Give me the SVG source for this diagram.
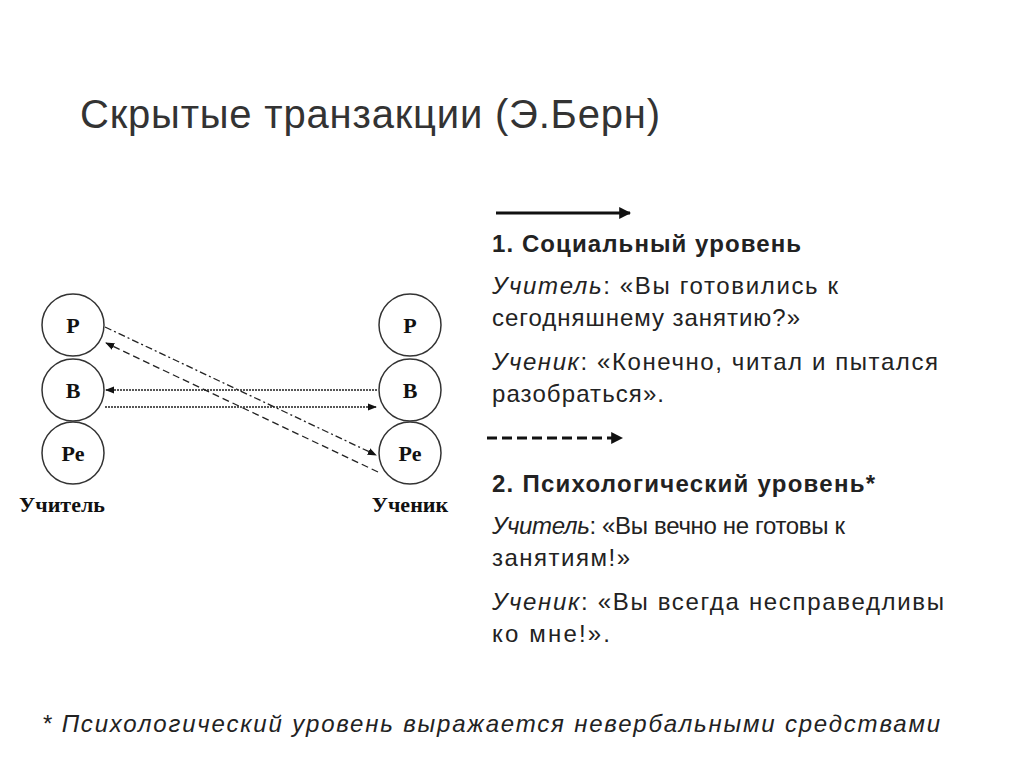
<svg xmlns="http://www.w3.org/2000/svg" width="1024" height="767" viewBox="0 0 1024 767">
<style>
.t{font-family:"Liberation Sans",Arial,sans-serif;font-size:24px;fill:#222}
.b{font-weight:bold}
.i{font-style:italic}
circle{fill:#fff;stroke:#333;stroke-width:1.5}
.n{font-family:"Liberation Serif",serif;font-weight:bold;font-size:22px;text-anchor:middle;fill:#111}
.c{stroke:#222;stroke-width:1.3;fill:none}
</style>
<defs>
<marker id="a" viewBox="0 0 10 10" refX="9" refY="5" markerWidth="7" markerHeight="7" orient="auto"><path d="M0,1 L10,5 L0,9 z" fill="#111"/></marker>
<marker id="m" viewBox="0 0 10 10" refX="9" refY="5" markerWidth="4" markerHeight="4" orient="auto"><path d="M0,0 L10,5 L0,10 z" fill="#111"/></marker>
</defs>
<rect width="1024" height="767" fill="#fff"/>
<text x="80" y="128" font-family="Liberation Sans,Arial,sans-serif" font-size="40" fill="#333" textLength="580">Скрытые транзакции (Э.Берн)</text>
<g id="teacher">
<g id="tP"><circle cx="73" cy="325" r="31"/><text class="n" x="73" y="333">Р</text></g>
<g id="tB"><circle cx="73" cy="390" r="31"/><text class="n" x="73" y="398">В</text></g>
<g id="tPe"><circle cx="73" cy="453" r="31"/><text class="n" x="73" y="461">Ре</text></g>
<text class="n" x="62" y="512" font-size="16">Учитель</text>
</g>
<g id="student">
<g id="sP"><circle cx="410" cy="325" r="31"/><text class="n" x="410" y="333">Р</text></g>
<g id="sB"><circle cx="410" cy="390" r="31"/><text class="n" x="410" y="398">В</text></g>
<g id="sPe"><circle cx="410" cy="453" r="31"/><text class="n" x="410" y="461">Ре</text></g>
<text class="n" x="410" y="512" font-size="16">Ученик</text>
</g>
<g id="connectors">
<line class="c" x1="105" y1="327" x2="376" y2="455" stroke-dasharray="7 3 2 3" marker-end="url(#a)"/>
<line class="c" x1="378" y1="472" x2="106" y2="343" stroke-dasharray="7 4" marker-end="url(#a)"/>
<line class="c" x1="377" y1="390" x2="106" y2="390" stroke-dasharray="2 1" marker-end="url(#a)"/>
<line class="c" x1="105" y1="407" x2="376" y2="407" stroke-dasharray="2 1" marker-end="url(#a)"/>
<line x1="496" y1="213" x2="630" y2="213" stroke="#111" stroke-width="3" marker-end="url(#m)"/>
<line x1="487" y1="438" x2="622" y2="438" stroke="#111" stroke-width="3" stroke-dasharray="10 5" marker-end="url(#m)"/>
</g>
<text class="t b" x="492" y="252" textLength="309">1. Социальный уровень</text>
<text class="t" x="492" y="294" textLength="346"><tspan class="i">Учитель</tspan>: «Вы готовились к</text>
<text class="t" x="492" y="326" textLength="308">сегодняшнему занятию?»</text>
<text class="t" x="492" y="370" textLength="446"><tspan class="i">Ученик</tspan>: «Конечно, читал и пытался</text>
<text class="t" x="492" y="402" textLength="172">разобраться».</text>
<text class="t b" x="492" y="492" textLength="383">2. Психологический уровень*</text>
<text class="t" x="492" y="534" textLength="353"><tspan class="i">Учитель</tspan>: «Вы вечно не готовы к</text>
<text class="t" x="492" y="566" textLength="138">занятиям!»</text>
<text class="t" x="492" y="610" textLength="452"><tspan class="i">Ученик</tspan>: «Вы всегда несправедливы</text>
<text class="t" x="492" y="642" textLength="118">ко мне!».</text>
<text class="t i" x="42" y="732" font-size="26" textLength="898">* Психологический уровень выражается невербальными средствами</text>
</svg>
